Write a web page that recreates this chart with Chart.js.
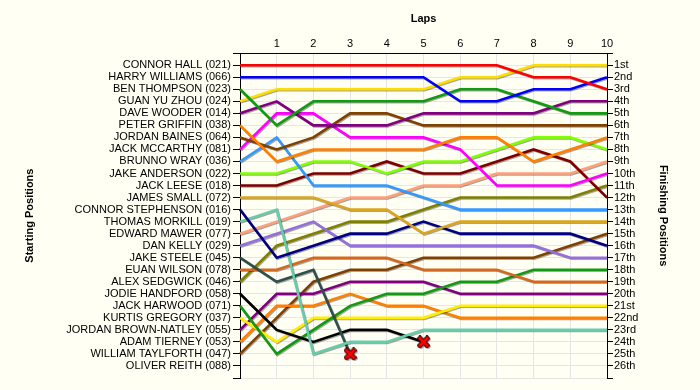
<!DOCTYPE html>
<html>
<head>
<meta charset="utf-8">
<script src="https://cdn.jsdelivr.net/npm/chart.js@4"></script>
<style>
  html, body { margin: 0; padding: 0; background: #fffff4; }
  #wrap { width: 700px; height: 390px; }
</style>
</head>
<body>
<div id="wrap"><canvas id="bump"></canvas></div>
<script>
const laps = ['0', '1', '2', '3', '4', '5', '6', '7', '8', '9', '10'];

const starters = [
  'CONNOR HALL (021)', 'HARRY WILLIAMS (066)', 'BEN THOMPSON (023)', 'GUAN YU ZHOU (024)',
  'DAVE WOODER (014)', 'PETER GRIFFIN (038)', 'JORDAN BAINES (064)', 'JACK MCCARTHY (081)',
  'BRUNNO WRAY (036)', 'JAKE ANDERSON (022)', 'JACK LEESE (018)', 'JAMES SMALL (072)',
  'CONNOR STEPHENSON (016)', 'THOMAS MORKILL (019)', 'EDWARD MAWER (077)', 'DAN KELLY (029)',
  'JAKE STEELE (045)', 'EUAN WILSON (078)', 'ALEX SEDGWICK (046)', 'JODIE HANDFORD (058)',
  'JACK HARWOOD (071)', 'KURTIS GREGORY (037)', 'JORDAN BROWN-NATLEY (055)', 'ADAM TIERNEY (053)',
  'WILLIAM TAYLFORTH (047)', 'OLIVER REITH (088)'
];

const finishers = [
  '1st', '2nd', '3rd', '4th', '5th', '6th', '7th', '8th', '9th', '10th', '11th', '12th', '13th',
  '14th', '15th', '16th', '17th', '18th', '19th', '20th', '21st', '22nd', '23rd', '24th', '25th', '26th'
];

// position per lap (lap 0 = grid)
const connorHall        = [1, 1, 1, 1, 1, 1, 1, 1, 2, 2, 3];
const harryWilliams     = [2, 2, 2, 2, 2, 2, 4, 4, 3, 3, 2];
const benThompson       = [3, 6, 4, 4, 4, 4, 3, 3, 4, 5, 5];
const guanYuZhou        = [4, 3, 3, 3, 3, 3, 2, 2, 1, 1, 1];
const daveWooder        = [5, 4, 6, 6, 6, 5, 5, 5, 5, 4, 4];
const peterGriffin      = [6, 9, 8, 8, 8, 8, 7, 7, 9, 8, 7];
const jordanBaines      = [7, 8, 7, 5, 5, 6, 6, 6, 6, 6, 6];
const jackMccarthy      = [8, 5, 5, 7, 7, 7, 8, 11, 11, 11, 10];
const brunnoWray        = [9, 7, 11, 11, 11, 12, 13, 13, 13, 13, 13];
const jakeAnderson      = [10, 10, 9, 9, 10, 9, 9, 8, 7, 7, 8];
const jackLeese         = [11, 11, 10, 10, 9, 10, 10, 9, 8, 9, 12];
const jamesSmall        = [12, 12, 12, 13, 13, 15, 14, 14, 14, 14, 14];
const connorStephenson  = [13, 17, 16, 15, 15, 14, 15, 15, 15, 15, 16];
const thomasMorkill     = [14, 13, 25, 24, 24, 23, 23, 23, 23, 23, 23];
const edwardMawer       = [15, 14, 13, 12, 12, 11, 11, 10, 10, 10, 9];
const danKelly          = [16, 15, 14, 16, 16, 16, 16, 16, 16, 17, 17];
const jakeSteele        = [17, 19, 18, 25, null, null, null, null, null, null, null];
const euanWilson        = [18, 18, 17, 17, 17, 18, 18, 18, 19, 19, 19];
const alexSedgwick      = [19, 16, 15, 14, 14, 13, 12, 12, 12, 12, 11];
const jodieHandford     = [20, 23, 24, 23, 23, 24, null, null, null, null, null];
const jackHarwood       = [21, 25, 23, 21, 20, 20, 19, 19, 18, 18, 18];
const kurtisGregory     = [22, 24, 22, 22, 22, 22, 21, 21, 21, 21, 21];
const jordanBrownNatley = [23, 20, 20, 19, 19, 19, 20, 20, 20, 20, 20];
const adamTierney       = [24, 21, 21, 20, 21, 21, 22, 22, 22, 22, 22];
const williamTaylforth  = [25, 22, 19, 18, 18, 17, 17, 17, 17, 16, 15];

const series = [
  connorHall, harryWilliams, benThompson, guanYuZhou, daveWooder, peterGriffin, jordanBaines,
  jackMccarthy, brunnoWray, jakeAnderson, jackLeese, jamesSmall, connorStephenson, thomasMorkill,
  edwardMawer, danKelly, jakeSteele, euanWilson, alexSedgwick, jodieHandford, jackHarwood,
  kurtisGregory, jordanBrownNatley, adamTierney, williamTaylforth
];

const colours = [
  '#ff0000', '#0000ff', '#129a12', '#ffdd00', '#800080', '#ff8000', '#804000',
  '#ff00ff', '#3399ff', '#80ff00', '#800000', '#daa520', '#000080', '#66cdaa',
  '#ffa07a', '#9370db', '#2f4f4f', '#d2691e', '#808000', '#000000', '#129a12',
  '#ffee00', '#800080', '#ff8000', '#804000'
];

// red cross used where a driver retired
const cross = document.createElement('canvas');
cross.width = 13; cross.height = 13;
(function () {
  const c = cross.getContext('2d');
  c.lineCap = 'square';
  c.strokeStyle = '#400000'; c.lineWidth = 5;
  c.beginPath(); c.moveTo(3, 3); c.lineTo(10, 10); c.moveTo(10, 3); c.lineTo(3, 10); c.stroke();
  c.strokeStyle = '#ff0000'; c.lineWidth = 3;
  c.beginPath(); c.moveTo(3, 3); c.lineTo(10, 10); c.moveTo(10, 3); c.lineTo(3, 10); c.stroke();
})();

function lastIndex(arr) {
  let k = -1;
  arr.forEach((v, i) => { if (v !== null) k = i; });
  return k;
}

const datasets = series.map((arr, i) => {
  const end = lastIndex(arr);
  const retired = end < laps.length - 1;
  return {
    label: starters[i],
    data: arr,
    borderColor: colours[i],
    backgroundColor: colours[i],
    borderWidth: 2.6,
    tension: 0,
    fill: false,
    pointStyle: cross,
    pointRadius: arr.map((v, j) => (retired && j === end ? 6 : 0)),
    pointHoverRadius: 0
  };
});

const shadow = {
  id: 'shadow',
  beforeDatasetsDraw(chart) {
    const c = chart.ctx;
    c.save();
    c.shadowColor = 'rgba(0,0,0,0.35)';
    c.shadowOffsetX = 1;
    c.shadowOffsetY = 1;
    c.shadowBlur = 0;
  },
  afterDatasetsDraw(chart) {
    chart.ctx.restore();
  }
};

const font = { family: 'Liberation Sans, Arial, sans-serif', size: 11 };
const boldFont = { family: 'Liberation Sans, Arial, sans-serif', size: 11, weight: 'bold' };

new Chart(document.getElementById('bump'), {
  type: 'line',
  data: { labels: laps, datasets },
  plugins: [shadow],
  options: {
    responsive: true,
    maintainAspectRatio: false,
    animation: false,
    layout: { padding: { left: 23, right: 30, top: 0, bottom: 12 } },
    plugins: {
      legend: { display: false },
      tooltip: { enabled: false },
      title: {
        display: true,
        text: 'Laps',
        fullSize: false,
        color: '#000',
        font: boldFont,
        padding: { top: 12, bottom: 8 }
      }
    },
    scales: {
      x: {
        position: 'top',
        offset: false,
        grid: { color: '#e6e6e6', drawTicks: false },
        border: { color: '#000', width: 1 },
        ticks: {
          color: '#000', font, padding: 3, maxRotation: 0, autoSkip: false,
          callback: (v, i) => (i === 0 ? '' : laps[i])
        },
        afterFit(s) { s.height = 20; }
      },
      y: {
        position: 'left',
        reverse: true,
        min: 0,
        max: 27,
        grid: { color: '#e6e6e6', tickColor: '#000', tickLength: 7 },
        border: { color: '#000', width: 1 },
        ticks: {
          stepSize: 1, autoSkip: false, color: '#000', font, padding: 2,
          callback: v => (v >= 1 && v <= starters.length ? starters[v - 1] : '')
        },
        title: { display: true, text: 'Starting Positions', color: '#000', font: boldFont, padding: 0 },
        afterFit(s) { s.width = 217; }
      },
      y2: {
        position: 'right',
        reverse: true,
        min: 0,
        max: 27,
        grid: { drawOnChartArea: false, tickColor: '#000', tickLength: 6 },
        border: { color: '#000', width: 1 },
        ticks: {
          stepSize: 1, autoSkip: false, color: '#000', font, padding: 1,
          callback: v => (v >= 1 && v <= finishers.length ? finishers[v - 1] : '')
        },
        title: { display: true, text: 'Finishing Positions', color: '#000', font: boldFont, padding: 0 },
        afterFit(s) { s.width = 63; }
      }
    }
  }
});
</script>
</body>
</html>
